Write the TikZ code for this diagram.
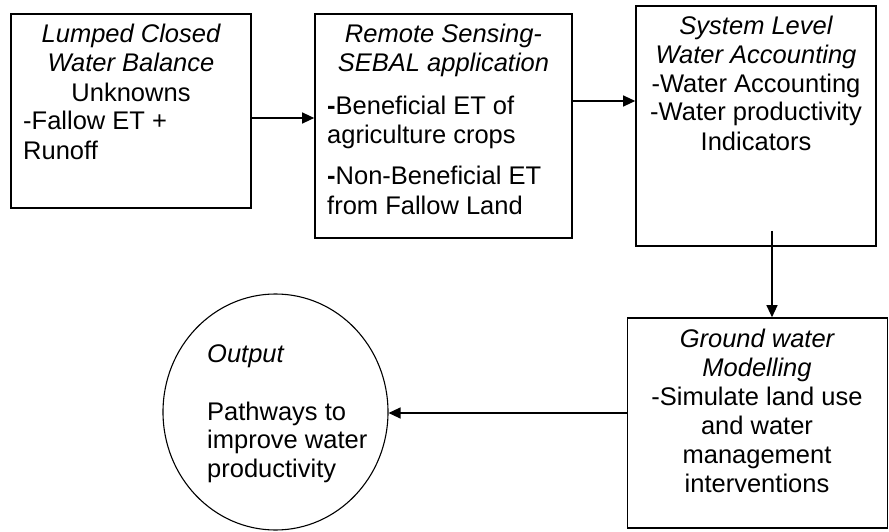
\documentclass[tikz,border=0pt]{standalone}
\usepackage{fontspec}
\setmainfont{Liberation Sans}
\usetikzlibrary{arrows.meta,shapes.geometric}
\begin{document}
\begin{tikzpicture}[x=1pt,y=-1pt,
  box/.style={draw, line width=1.6pt, rectangle, inner sep=0pt},
  oval/.style={draw, line width=1.1pt, ellipse, inner sep=0pt},
  arr/.style={line width=1.2pt, -{Triangle[length=12pt,width=11pt]}},
  tc/.style={inner sep=0pt, anchor=base, font=\fontsize{25.5}{29}\selectfont},
  tl/.style={inner sep=0pt, anchor=base west, font=\fontsize{25.5}{29}\selectfont},
  it/.style={font=\fontsize{25.5}{29}\selectfont\itshape}]
\useasboundingbox (0,0) rectangle (889,532);
% boxes
\node[box, minimum width=240pt, minimum height=194pt] (b1) at (131,111) {};
\node[box, minimum width=257pt, minimum height=224pt] (b2) at (443.5,126) {};
\node[box, minimum width=240pt, minimum height=240pt] (b3) at (756,126) {};
\node[box, minimum width=260pt, minimum height=210pt] (b4) at (757.5,423) {};
\node[oval, minimum width=225pt, minimum height=236pt] (out) at (275.5,412) {};
% box 1 text
\node[tc,it] (t1a) at (131,43) {Lumped Closed};
\node[tc,it] (t1b) at (131,72) {Water Balance};
\node[tc] (t1c) at (131,102) {Unknowns};
\node[tl] (t1d) at (23,130) {-Fallow ET +};
\node[tl] (t1e) at (23,160) {Runoff};
% box 2 text
\node[tc,it] (t2a) at (443.5,43) {Remote Sensing-};
\node[tc,it] (t2b) at (443.5,72) {SEBAL application};
\node[tl] (t2c) at (327,115) {{\bfseries -}Beneficial ET of};
\node[tl] (t2d) at (327,143) {agriculture crops};
\node[tl] (t2e) at (327,185) {{\bfseries -}Non-Beneficial ET};
\node[tl] (t2f) at (327,214) {from Fallow Land};
% box 3 text
\node[tc,it] (t3a) at (756,35) {System Level};
\node[tc,it] (t3b) at (756,64) {Water Accounting};
\node[tc] (t3c) at (756,93) {-Water Accounting};
\node[tc] (t3d) at (756,121) {-Water productivity};
\node[tc] (t3e) at (756,151) {Indicators};
% box 4 text
\node[tc,it] (t4a) at (757,347) {Ground water};
\node[tc,it] (t4b) at (757,376) {Modelling};
\node[tc] (t4c) at (757,405) {-Simulate land use};
\node[tc] (t4d) at (757,434) {and water};
\node[tc] (t4e) at (757,463) {management};
\node[tc] (t4f) at (757,492) {interventions};
% output text
\node[tl,it,anchor=base west] (t5a) at (207,362) {Output};
\node[tl] (t5b) at (207,420) {Pathways to};
\node[tl] (t5c) at (207,448) {improve water};
\node[tl] (t5d) at (207,477) {productivity};
% connectors
\draw[arr] ([yshift=-7pt]b1.east) -- ([yshift=-7pt]b1.east -| b2.west);
\draw[arr] ([yshift=25pt]b2.east) -- ([yshift=25pt]b2.east -| b3.west);
\coordinate (s3) at ([xshift=16pt,yshift=16pt]b3.south);
\draw[arr] (s3) -- (s3 |- b4.north);
\draw[arr] ([yshift=10pt]b4.west) -- ([yshift=10pt]b4.west -| out.east);
\end{tikzpicture}
\end{document}
